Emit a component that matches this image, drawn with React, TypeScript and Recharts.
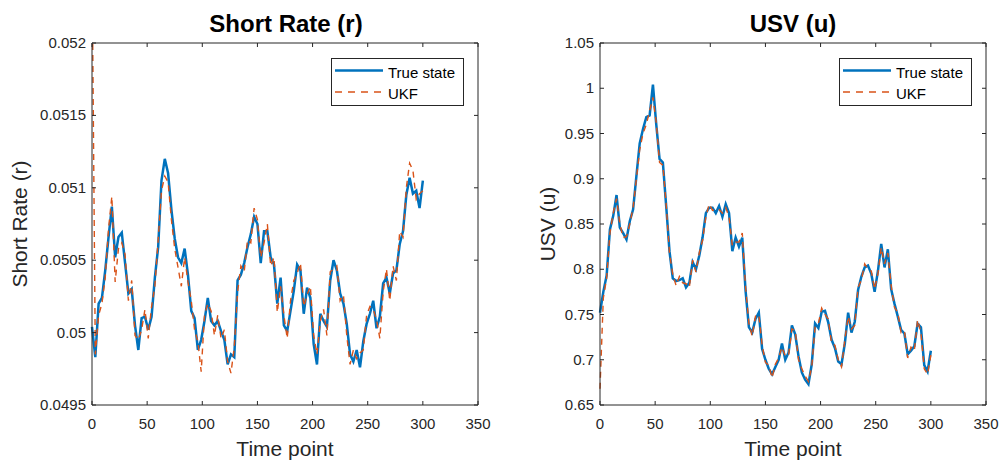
import { LineChart, Line, XAxis, YAxis, Legend } from "recharts"

// time index, sampled every 3 points
const timePoints = [
  0, 3, 6, 9, 12, 15, 18, 21, 24, 27,
  30, 33, 36, 39, 42, 45, 48, 51, 54, 57,
  60, 63, 66, 69, 72, 75, 78, 81, 84, 87,
  90, 93, 96, 99, 102, 105, 108, 111, 114, 117,
  120, 123, 126, 129, 132, 135, 138, 141, 144, 147,
  150, 153, 156, 159, 162, 165, 168, 171, 174, 177,
  180, 183, 186, 189, 192, 195, 198, 201, 204, 207,
  210, 213, 216, 219, 222, 225, 228, 231, 234, 237,
  240, 243, 246, 249, 252, 255, 258, 261, 264, 267,
  270, 273, 276, 279, 282, 285, 288, 291, 294, 297,
  300,
]

const rTrue = [
  0.05004, 0.04983, 0.0502, 0.05024, 0.05043, 0.05066, 0.05087, 0.05052, 0.05066, 0.05069,
  0.05048, 0.05027, 0.0503, 0.05005, 0.04988, 0.0501, 0.05011, 0.05002, 0.05011, 0.05038,
  0.05059, 0.05105, 0.0512, 0.0511, 0.05085, 0.05065, 0.05052, 0.05048, 0.05058, 0.0504,
  0.05015, 0.0501, 0.04988, 0.04995, 0.05008, 0.05024, 0.05008, 0.05005, 0.05008, 0.05001,
  0.04995, 0.04978, 0.04985, 0.04983, 0.05036, 0.0504, 0.05048, 0.05059, 0.05068, 0.0508,
  0.05075, 0.05048, 0.0507, 0.0507, 0.05052, 0.05047, 0.0502, 0.05038, 0.05005, 0.05001,
  0.05015, 0.05029, 0.05047, 0.05043, 0.05013, 0.05031, 0.05024, 0.04992, 0.04978, 0.05013,
  0.05008, 0.05004, 0.05036, 0.0505, 0.05043, 0.05027, 0.0502, 0.05006, 0.04985, 0.0498,
  0.04988, 0.04976, 0.04994, 0.05006, 0.05013, 0.05022, 0.05003, 0.05011, 0.05034, 0.05038,
  0.05027, 0.05041, 0.05043, 0.05061, 0.0507, 0.05095, 0.05107, 0.05096, 0.05098, 0.05086,
  0.05105,
]

const rUkf = [
  0.0526, 0.04985, 0.05012, 0.0502, 0.05038, 0.05072, 0.05094, 0.05035, 0.05058, 0.05062,
  0.05054, 0.05022, 0.05036, 0.04998, 0.04995, 0.05002, 0.05016, 0.04996, 0.05018, 0.05032,
  0.05064, 0.05098, 0.05108, 0.05104, 0.05078, 0.05058, 0.05045, 0.05032, 0.05052, 0.05035,
  0.05022, 0.05002, 0.04994, 0.04973, 0.05012, 0.0502, 0.05015, 0.04998, 0.05012, 0.04996,
  0.05002, 0.0498, 0.04972, 0.0499, 0.05028, 0.05046, 0.05042, 0.05064, 0.05062, 0.05086,
  0.05078, 0.05052, 0.05062, 0.05075, 0.05046, 0.05052, 0.05014, 0.05032, 0.05012, 0.04996,
  0.05022, 0.05036, 0.05041, 0.05048, 0.05018, 0.05026, 0.05032, 0.04998, 0.04985, 0.05008,
  0.05016, 0.04998, 0.05042, 0.05044, 0.05046, 0.05022, 0.05026, 0.04998, 0.04978, 0.04988,
  0.04982, 0.04986, 0.04988, 0.05012, 0.05018, 0.05016, 0.05009, 0.04996, 0.05028, 0.05044,
  0.05022, 0.05046, 0.05036, 0.0507, 0.05066, 0.051, 0.05117, 0.05112, 0.05092, 0.05096,
  0.05098,
]

const uTrue = [
  0.752, 0.775, 0.793, 0.844, 0.859, 0.882, 0.846, 0.84, 0.833, 0.853,
  0.866, 0.903, 0.939, 0.955, 0.968, 0.97, 1.004, 0.96, 0.922, 0.918,
  0.87, 0.82, 0.79, 0.787, 0.788, 0.79, 0.78, 0.785, 0.808, 0.8,
  0.815, 0.835, 0.862, 0.868, 0.868, 0.862, 0.87, 0.858, 0.872, 0.862,
  0.82, 0.835, 0.825, 0.835, 0.776, 0.736, 0.73, 0.745, 0.752, 0.712,
  0.7, 0.69, 0.684, 0.692, 0.7, 0.718, 0.7, 0.708, 0.738, 0.728,
  0.704, 0.686, 0.678, 0.673, 0.695, 0.74, 0.735, 0.753, 0.754, 0.741,
  0.722, 0.713, 0.698, 0.695, 0.718, 0.752, 0.73, 0.742, 0.777, 0.792,
  0.802, 0.804, 0.795, 0.775, 0.798, 0.828, 0.802, 0.822, 0.778, 0.762,
  0.748, 0.733, 0.729, 0.706, 0.71, 0.715, 0.74, 0.736, 0.694, 0.687,
  0.71,
]

const uUkf = [
  0.668, 0.768, 0.79, 0.84, 0.862, 0.878, 0.85, 0.835, 0.836, 0.85,
  0.868, 0.9, 0.932, 0.95, 0.96, 0.975, 0.99, 0.962, 0.918, 0.915,
  0.872, 0.818, 0.794, 0.782, 0.792, 0.785, 0.784, 0.78, 0.81, 0.797,
  0.818, 0.832, 0.858, 0.872, 0.865, 0.866, 0.866, 0.862, 0.868, 0.858,
  0.826, 0.83, 0.83, 0.84, 0.78, 0.74, 0.726, 0.748, 0.75, 0.716,
  0.697, 0.694, 0.68, 0.695, 0.702, 0.714, 0.704, 0.705, 0.734, 0.732,
  0.7, 0.69, 0.682, 0.676, 0.692, 0.736, 0.74, 0.757, 0.75, 0.745,
  0.718, 0.716, 0.7, 0.692, 0.722, 0.748, 0.734, 0.738, 0.78, 0.788,
  0.806, 0.8, 0.798, 0.778, 0.795, 0.824, 0.806, 0.818, 0.782, 0.758,
  0.752, 0.73, 0.732, 0.702, 0.714, 0.71, 0.744, 0.73, 0.69, 0.684,
  0.705,
]

const xTicks = [0, 50, 100, 150, 200, 250, 300, 350]
const rTicks = [0.0495, 0.05, 0.0505, 0.051, 0.0515, 0.052]
const uTicks = [0.65, 0.7, 0.75, 0.8, 0.85, 0.9, 0.95, 1, 1.05]

const FONT = '"Liberation Sans", Arial, Helvetica, sans-serif'
const AXIS = "#262626"
const BLUE = "#0072BD"
const ORANGE = "#D95319"

const CH_W = 501
const CH_H = 464
const PLOT_TOP = 43
const PLOT_BOTTOM = 405
const TICK_LEN = 4

function LegendBox() {
  return (
    <svg width={133} height={48} style={{ display: "block" }}>
      <rect x={0.5} y={0.5} width={132} height={47} fill="#fff" stroke={AXIS} strokeWidth={1} />
      <line x1={4} x2={52} y1={12.5} y2={12.5} stroke={BLUE} strokeWidth={2.5} />
      <text x={57} y={20} fontSize={15} fontFamily={FONT} fill="#000">True state</text>
      <line x1={4} x2={52} y1={34} y2={34} stroke={ORANGE} strokeWidth={1.5} strokeDasharray="7 6" />
      <text x={57} y={41} fontSize={15} fontFamily={FONT} fill="#000">UKF</text>
    </svg>
  )
}

interface PanelProps {
  left: number
  plotLeft: number
  plotRight: number
  truth: number[]
  ukf: number[]
  domain: [number, number]
  yTicks: number[]
}

function Panel({ left, plotLeft, plotRight, truth, ukf, domain, yTicks }: PanelProps) {
  const data = timePoints.map((t, i) => ({ t, truth: truth[i], ukf: ukf[i] }))

  const bottomTick = (props: any) => (
    <g>
      <line x1={props.x} x2={props.x} y1={PLOT_BOTTOM} y2={PLOT_BOTTOM - TICK_LEN} stroke={AXIS} />
      <text x={props.x} y={PLOT_BOTTOM + 24} textAnchor="middle" fontSize={15} fontFamily={FONT} fill={AXIS}>
        {props.payload.value}
      </text>
    </g>
  )
  const topTick = (props: any) => (
    <line x1={props.x} x2={props.x} y1={PLOT_TOP} y2={PLOT_TOP + TICK_LEN} stroke={AXIS} />
  )
  const leftTick = (props: any) => (
    <g>
      <line x1={plotLeft} x2={plotLeft + TICK_LEN} y1={props.y} y2={props.y} stroke={AXIS} />
      <text x={plotLeft - 6} y={props.y + 5} textAnchor="end" fontSize={15} fontFamily={FONT} fill={AXIS}>
        {String(props.payload.value)}
      </text>
    </g>
  )
  const rightTick = (props: any) => (
    <line x1={plotRight} x2={plotRight - TICK_LEN} y1={props.y} y2={props.y} stroke={AXIS} />
  )

  return (
    <div style={{ position: "absolute", left, top: 0 }}>
      <LineChart
        width={CH_W}
        height={CH_H}
        data={data}
        margin={{
          top: PLOT_TOP - 10,
          bottom: CH_H - PLOT_BOTTOM - 30,
          left: plotLeft - 60,
          right: CH_W - plotRight - 10,
        }}
      >
        <XAxis
          xAxisId="b"
          dataKey="t"
          type="number"
          domain={[0, 350]}
          ticks={xTicks}
          interval={0}
          height={30}
          tickLine={false}
          tick={bottomTick}
          axisLine={{ stroke: AXIS }}
        />
        <XAxis
          xAxisId="t"
          orientation="top"
          dataKey="t"
          type="number"
          domain={[0, 350]}
          ticks={xTicks}
          interval={0}
          height={10}
          tickLine={false}
          tick={topTick}
          axisLine={{ stroke: AXIS }}
        />
        <YAxis
          yAxisId="l"
          type="number"
          domain={domain}
          ticks={yTicks}
          interval={0}
          width={60}
          allowDataOverflow
          tickLine={false}
          tick={leftTick}
          axisLine={{ stroke: AXIS }}
        />
        <YAxis
          yAxisId="r"
          orientation="right"
          type="number"
          domain={domain}
          ticks={yTicks}
          interval={0}
          width={10}
          allowDataOverflow
          tickLine={false}
          tick={rightTick}
          axisLine={{ stroke: AXIS }}
        />
        <Legend
          layout="horizontal"
          verticalAlign="middle"
          align="center"
          content={() => <LegendBox />}
          wrapperStyle={{ left: plotRight - 147, top: 58, width: 133, height: 48 }}
        />
        <Line
          xAxisId="b"
          yAxisId="l"
          dataKey="truth"
          name="True state"
          stroke={BLUE}
          strokeWidth={2.5}
          dot={false}
          activeDot={false}
          type="linear"
          isAnimationActive={false}
        />
        <Line
          xAxisId="b"
          yAxisId="l"
          dataKey="ukf"
          name="UKF"
          stroke={ORANGE}
          strokeWidth={1.4}
          strokeDasharray="6 5"
          dot={false}
          activeDot={false}
          type="linear"
          isAnimationActive={false}
        />
      </LineChart>
    </div>
  )
}

export default function App() {
  return (
    <div style={{ position: "relative", width: 1002, height: 464, background: "#fff", overflow: "hidden" }}>
      <style>{"body{margin:0}"}</style>
      <Panel left={0} plotLeft={92} plotRight={478} truth={rTrue} ukf={rUkf} domain={[0.0495, 0.052]} yTicks={rTicks} />
      <Panel left={501} plotLeft={99} plotRight={485} truth={uTrue} ukf={uUkf} domain={[0.65, 1.05]} yTicks={uTicks} />
      <svg
        width={1002}
        height={464}
        style={{ position: "absolute", left: 0, top: 0, pointerEvents: "none" }}
        fontFamily={FONT}
      >
        <text x={286} y={32} textAnchor="middle" fontSize={24} fontWeight="bold" fill="#000">Short Rate (r)</text>
        <text x={793} y={32} textAnchor="middle" fontSize={24} fontWeight="bold" fill="#000">USV (u)</text>
        <text x={285} y={456} textAnchor="middle" fontSize={21} fill={AXIS}>Time point</text>
        <text x={793} y={456} textAnchor="middle" fontSize={21} fill={AXIS}>Time point</text>
        <text x={27} y={224} textAnchor="middle" fontSize={21} fill={AXIS} transform="rotate(-90 27 224)">Short Rate (r)</text>
        <text x={555} y={224} textAnchor="middle" fontSize={21} fill={AXIS} transform="rotate(-90 555 224)">USV (u)</text>
      </svg>
    </div>
  )
}
